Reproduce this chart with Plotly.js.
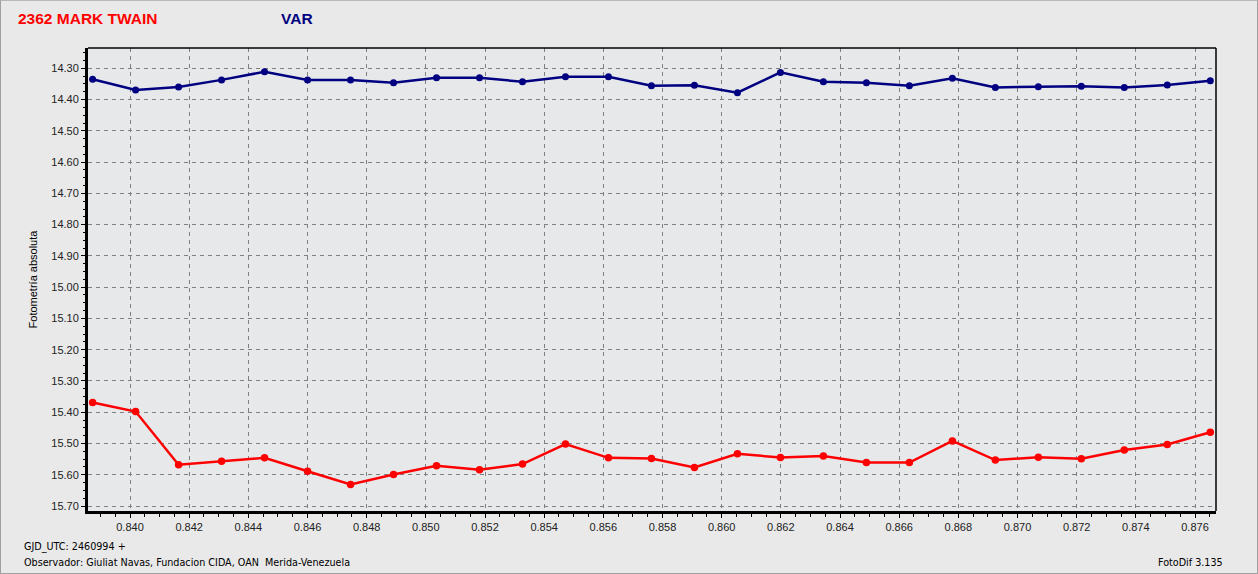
<!DOCTYPE html>
<html><head><meta charset="utf-8">
<script src="https://cdn.plot.ly/plotly-3.0.1.min.js"></script>
<style>
html,body{margin:0;padding:0;background:#e9e9e9;}
#wrap{width:1258px;height:574px;box-sizing:border-box;border:1px solid #a0a0a0;border-top:1px solid #b8b8b8;position:relative;overflow:hidden;}
#chart{width:1256px;height:572px;}
</style></head>
<body><div id="wrap"><div id="chart"></div></div>
<script>
// Time axis: GJD_UTC fractional part (2460994 +)
const timeStart = 0.838736;
const timeStep = 0.0014531;
const nPoints = 27;
const times = [];
for (let i = 0; i < nPoints; i++) times.push(+(timeStart + i * timeStep).toFixed(6));

// VAR (blue) absolute photometry
const varMag = [14.335, 14.369, 14.360, 14.337, 14.311, 14.337, 14.337, 14.346, 14.330, 14.330,
  14.343, 14.327, 14.327, 14.356, 14.354, 14.378, 14.313, 14.343, 14.346, 14.356,
  14.332, 14.361, 14.359, 14.357, 14.361, 14.353, 14.340];
// 2362 MARK TWAIN (red)
const objMag = [15.369, 15.398, 15.568, 15.557, 15.546, 15.589, 15.631, 15.599, 15.571, 15.584,
  15.566, 15.502, 15.546, 15.548, 15.577, 15.533, 15.545, 15.540, 15.561, 15.561,
  15.492, 15.553, 15.544, 15.549, 15.521, 15.503, 15.464];

const titleObj = "2362 MARK TWAIN";
const titleVar = "VAR";
const yTitle = "Fotometría absoluta";
const footer1 = "GJD_UTC: 2460994 +";
const footer2 = "Observador: Giuliat Navas, Fundacion CIDA, OAN  Merida-Venezuela";
const footer3 = "FotoDif 3.135";

const traces = [
  {x: times, y: varMag, mode: 'lines+markers', type: 'scatter',
   line: {color: '#000080', width: 2.5}, marker: {color: '#000080', size: 7, symbol: 'circle'},
   hoverinfo: 'x+y', showlegend: false},
  {x: times, y: objMag, mode: 'lines+markers', type: 'scatter',
   line: {color: '#ff0000', width: 2.5}, marker: {color: '#ff0000', size: 7.5, symbol: 'circle'},
   hoverinfo: 'x+y', showlegend: false}
];

const axFont = {family: 'Liberation Sans, Arial, sans-serif', size: 11, color: '#222'};
const footFont = {family: 'DejaVu Sans Condensed, DejaVu Sans, sans-serif', size: 10.7, color: '#000'};
const layout = {
  width: 1256, height: 572,
  paper_bgcolor: '#e9e9e9', plot_bgcolor: '#e6e8ea',
  margin: {l: 87, r: 41, t: 47, b: 62},
  showlegend: false,
  xaxis: {
    range: [0.83858, 0.87671], dtick: 0.002, tick0: 0.840, tickformat: '.3f',
    showgrid: true, gridcolor: '#808080', griddash: '4px,4px', gridwidth: 1,
    zeroline: false, showline: true, linecolor: '#000', linewidth: 3, mirror: false,
    ticks: 'outside', ticklen: 4, tickcolor: '#000', tickfont: axFont,
    minor: {dtick: 0.0005, ticks: 'outside', ticklen: 3, tickcolor: '#000', showgrid: false}
  },
  yaxis: {
    range: [15.716, 14.235], dtick: 0.1, tick0: 14.3, tickformat: '.2f',
    showgrid: true, gridcolor: '#808080', griddash: '4px,4px', gridwidth: 1,
    zeroline: false, showline: true, linecolor: '#000', linewidth: 3, mirror: false,
    ticks: 'outside', ticklen: 4, tickcolor: '#000', tickfont: axFont,
    minor: {dtick: 0.025, ticks: 'outside', ticklen: 2, tickcolor: '#000', showgrid: false},
    title: {text: yTitle, font: {family: 'Liberation Sans, Arial, sans-serif', size: 11, color: '#000'}, standoff: 12}
  },
  shapes: [
    {type: 'line', xref: 'paper', yref: 'paper', x0: 0, x1: 1, y0: 1, y1: 1, line: {color: '#000', width: 1.5}},
    {type: 'line', xref: 'paper', yref: 'paper', x0: 1, x1: 1, y0: 0, y1: 1, line: {color: '#000', width: 1.5}}
  ],
  annotations: [
    {text: '<b>' + titleObj + '</b>', xref: 'paper', yref: 'paper', x: -0.0635, y: 1.063, xanchor: 'left', yanchor: 'middle',
     showarrow: false, font: {family: 'Liberation Sans, Arial, sans-serif', size: 15.5, color: '#ff0000'}},
    {text: '<b>' + titleVar + '</b>', xref: 'paper', yref: 'paper', x: 0.169, y: 1.063, xanchor: 'left', yanchor: 'middle',
     showarrow: false, font: {family: 'Liberation Sans, Arial, sans-serif', size: 15.5, color: '#000080'}},
    {text: footer1, xref: 'paper', yref: 'paper', x: -0.0585, y: -0.077, xanchor: 'left', yanchor: 'middle',
     showarrow: false, font: footFont},
    {text: footer2, xref: 'paper', yref: 'paper', x: -0.0585, y: -0.112, xanchor: 'left', yanchor: 'middle',
     showarrow: false, font: footFont},
    {text: footer3, xref: 'paper', yref: 'paper', x: 1.008, y: -0.112, xanchor: 'right', yanchor: 'middle',
     showarrow: false, font: footFont}
  ]
};
Plotly.newPlot('chart', traces, layout, {displayModeBar: false, staticPlot: true});
</script></body></html>
